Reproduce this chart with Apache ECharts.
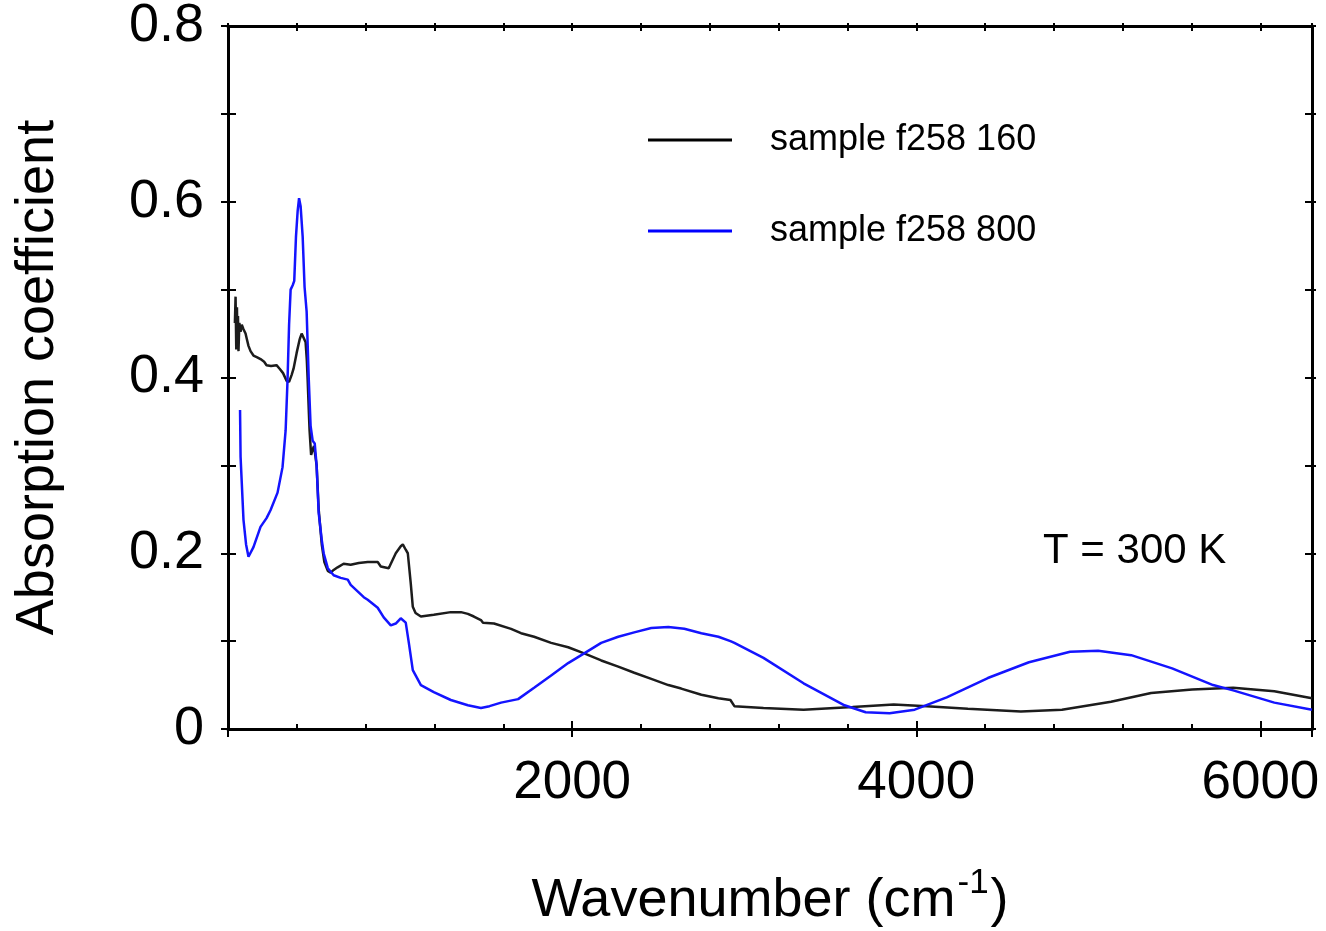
<!DOCTYPE html>
<html>
<head>
<meta charset="utf-8">
<script src="https://cdn.jsdelivr.net/npm/echarts@6/dist/echarts.min.js"></script>
<style>
  html, body { margin: 0; padding: 0; background: #fff; }
  #main { width: 1326px; height: 931px; }
</style>
</head>
<body>
<div id="main"></div>
<script>
// values
var blackWn = [40, 44, 48, 52, 55, 58, 61, 66, 73, 80, 90, 102, 108, 119, 131, 148, 170, 189, 210, 224, 250, 282, 300, 320, 341, 355, 370, 381, 399, 416, 428, 440, 451, 458, 463, 470, 474, 483, 492, 500, 515, 527, 545, 560, 580, 597, 614, 637, 672, 713, 760, 812, 870, 888, 934, 975, 1004, 1016, 1033, 1045, 1062, 1074, 1090, 1121, 1196, 1295, 1354, 1394, 1429, 1470, 1482, 1546, 1645, 1703, 1779, 1878, 1977, 2070, 2169, 2268, 2361, 2460, 2559, 2634, 2751, 2850, 2920, 2931, 2943, 3112, 3345, 3630, 3869, 4061, 4300, 4608, 4847, 5132, 5365, 5603, 5842, 6081, 6300];
var blackAbs = [0.462, 0.492, 0.432, 0.480, 0.440, 0.470, 0.430, 0.462, 0.452, 0.460, 0.455, 0.450, 0.445, 0.436, 0.430, 0.425, 0.423, 0.421, 0.418, 0.414, 0.413, 0.414, 0.410, 0.405, 0.396, 0.395, 0.403, 0.410, 0.428, 0.443, 0.450, 0.445, 0.440, 0.420, 0.397, 0.360, 0.340, 0.312, 0.318, 0.322, 0.300, 0.250, 0.210, 0.190, 0.180, 0.178, 0.181, 0.184, 0.188, 0.187, 0.189, 0.190, 0.190, 0.185, 0.183, 0.200, 0.208, 0.210, 0.204, 0.200, 0.166, 0.139, 0.132, 0.128, 0.130, 0.133, 0.133, 0.131, 0.128, 0.124, 0.121, 0.120, 0.114, 0.109, 0.105, 0.098, 0.093, 0.086, 0.078, 0.071, 0.064, 0.057, 0.050, 0.046, 0.039, 0.035, 0.033, 0.032, 0.026, 0.024, 0.022, 0.025, 0.028, 0.026, 0.023, 0.020, 0.022, 0.031, 0.041, 0.045, 0.047, 0.043, 0.035];

var blueWn = [70, 73, 90, 105, 119, 125, 148, 189, 224, 247, 288, 317, 335, 346, 355, 364, 376, 385, 395, 405, 413, 422, 434, 445, 457, 469, 480, 492, 504, 515, 527, 545, 556, 580, 597, 614, 655, 696, 713, 789, 812, 870, 905, 946, 975, 1004, 1033, 1051, 1074, 1121, 1196, 1295, 1394, 1470, 1520, 1587, 1686, 1779, 1878, 1977, 2070, 2169, 2268, 2361, 2460, 2559, 2652, 2751, 2850, 2920, 2943, 3112, 3345, 3583, 3706, 3845, 3991, 4177, 4416, 4655, 4894, 5057, 5249, 5487, 5725, 5842, 6081, 6300];
var blueAbs = [0.363, 0.310, 0.238, 0.210, 0.196, 0.198, 0.207, 0.230, 0.240, 0.249, 0.269, 0.298, 0.340, 0.397, 0.460, 0.500, 0.505, 0.510, 0.560, 0.590, 0.604, 0.595, 0.560, 0.503, 0.475, 0.400, 0.345, 0.328, 0.325, 0.300, 0.246, 0.215, 0.200, 0.183, 0.179, 0.175, 0.172, 0.170, 0.164, 0.150, 0.147, 0.138, 0.127, 0.118, 0.120, 0.126, 0.121, 0.098, 0.067, 0.050, 0.042, 0.033, 0.027, 0.024, 0.026, 0.030, 0.034, 0.047, 0.061, 0.075, 0.086, 0.098, 0.105, 0.110, 0.115, 0.116, 0.114, 0.109, 0.105, 0.100, 0.098, 0.081, 0.052, 0.027, 0.019, 0.018, 0.022, 0.036, 0.058, 0.076, 0.088, 0.089, 0.084, 0.069, 0.050, 0.044, 0.030, 0.022];

var seriesNames = ['sample f258 160', 'sample f258 800'];
var xTicks = [2000, 4000, 6000];

var font = 'Liberation Sans, Arial, sans-serif';

function pairs(xs, ys) {
  return xs.map(function (x, i) { return [x, ys[i]]; });
}

var chart = echarts.init(document.getElementById('main'));

var lineStyle = { color: '#000', width: 3 };
var noLine = { show: false, onZero: false };

chart.setOption({
  animation: false,
  backgroundColor: '#fff',
  grid: { left: 228, right: 14, top: 26, bottom: 202, containLabel: false, outerBoundsMode: 'none' },
  legend: {
    orient: 'vertical',
    left: 643,
    top: 117,
    itemGap: 55,
    itemWidth: 84,
    itemHeight: 3,
    icon: 'rect',
    data: seriesNames,
    textStyle: { fontFamily: font, fontSize: 36, color: '#000', padding: [0, 0, 0, 33] }
  },
  graphic: [{
    type: 'text',
    left: 1043,
    top: 530,
    style: { text: 'T = 300 K', font: '42px ' + font, fill: '#000' }
  }],
  xAxis: [
    {
      type: 'value', position: 'bottom', min: 0, max: 6300, interval: 2000,
      axisLine: { show: true, onZero: false, lineStyle: lineStyle },
      axisTick: { inside: true, length: 8, lineStyle: { width: 2, color: '#000' } },
      axisLabel: {
        margin: 28, fontSize: 53, fontFamily: font, color: '#000', showMaxLabel: false,
        formatter: function (v) { return xTicks.indexOf(v) >= 0 ? String(v) : ''; }
      },
      splitLine: { show: false },
      name: '{a|Wavenumber (cm}{b|-1}{a|)}',
      nameLocation: 'middle',
      nameGap: 137,
      nameTextStyle: {
        rich: {
          a: { fontSize: 54, fontFamily: font, color: '#000', verticalAlign: 'bottom', lineHeight: 62 },
          b: { fontSize: 35, fontFamily: font, color: '#000', verticalAlign: 'top', lineHeight: 62, padding: [0, 2, 0, 2] }
        }
      }
    },
    {
      type: 'value', position: 'bottom', min: 0, max: 6300, interval: 2000,
      axisLine: noLine,
      axisTick: { inside: false, length: 8, lineStyle: { width: 2, color: '#000' } },
      axisLabel: { show: false }, splitLine: { show: false }
    },
    {
      type: 'value', position: 'bottom', min: 0, max: 6300, interval: 400,
      axisLine: noLine,
      axisTick: { inside: true, length: 5, lineStyle: { width: 2, color: '#000' } },
      axisLabel: { show: false }, splitLine: { show: false }
    },
    {
      type: 'value', position: 'top', min: 0, max: 6300, interval: 400,
      axisLine: { show: true, onZero: false, lineStyle: lineStyle },
      axisTick: { inside: true, length: 5, lineStyle: { width: 2, color: '#000' } },
      axisLabel: { show: false }, splitLine: { show: false }
    },
    {
      type: 'value', position: 'top', min: 0, max: 6300, interval: 400,
      axisLine: noLine,
      axisTick: { inside: false, length: 3, lineStyle: { width: 2, color: '#000' } },
      axisLabel: { show: false }, splitLine: { show: false }
    }
  ],
  yAxis: [
    {
      type: 'value', position: 'left', min: 0, max: 0.8, interval: 0.2,
      axisLine: { show: true, onZero: false, lineStyle: lineStyle },
      axisTick: { inside: true, length: 8, lineStyle: { width: 2, color: '#000' } },
      minorTick: { show: true, splitNumber: 2, length: 8, lineStyle: { width: 2, color: '#000' } },
      axisLabel: { margin: 24, fontSize: 54, fontFamily: font, color: '#000' },
      splitLine: { show: false },
      name: 'Absorption coefficient',
      nameLocation: 'middle',
      nameGap: 163,
      nameTextStyle: { fontSize: 54, fontFamily: font, color: '#000' }
    },
    {
      type: 'value', position: 'left', min: 0, max: 0.8, interval: 0.1,
      axisLine: noLine,
      axisTick: { inside: false, length: 7, lineStyle: { width: 2, color: '#000' } },
      axisLabel: { show: false }, splitLine: { show: false }
    },
    {
      type: 'value', position: 'right', min: 0, max: 0.8, interval: 0.1,
      axisLine: { show: true, onZero: false, lineStyle: lineStyle },
      axisTick: { inside: true, length: 7, lineStyle: { width: 2, color: '#000' } },
      axisLabel: { show: false }, splitLine: { show: false }
    },
    {
      type: 'value', position: 'right', min: 0, max: 0.8, interval: 0.1,
      axisLine: noLine,
      axisTick: { inside: false, length: 4, lineStyle: { width: 2, color: '#000' } },
      axisLabel: { show: false }, splitLine: { show: false }
    }
  ],
  series: [
    {
      name: seriesNames[0], type: 'line', xAxisIndex: 0, yAxisIndex: 0,
      showSymbol: false, smooth: false,
      lineStyle: { color: '#1c1c1c', width: 2.5 },
      itemStyle: { color: '#000' },
      data: pairs(blackWn, blackAbs)
    },
    {
      name: seriesNames[1], type: 'line', xAxisIndex: 0, yAxisIndex: 0,
      showSymbol: false, smooth: false,
      lineStyle: { color: '#1414ff', width: 2.5 },
      itemStyle: { color: '#0000ff' },
      data: pairs(blueWn, blueAbs)
    }
  ]
});
</script>
</body>
</html>
